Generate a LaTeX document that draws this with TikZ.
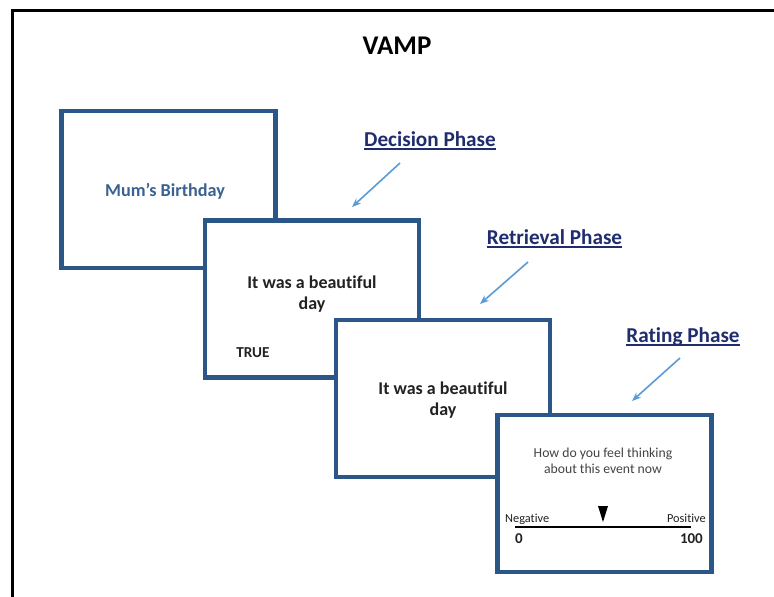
\documentclass[tikz,border=0pt]{standalone}
\usepackage{fontspec}
\setmainfont{Carlito}[Ligatures=NoCommon]
\usetikzlibrary{arrows.meta}
\definecolor{cardblue}{HTML}{2B5788}
\definecolor{phasenavy}{HTML}{1F2D6E}
\definecolor{arrowblue}{HTML}{5B9BD5}
\definecolor{mumblue}{HTML}{3B6190}
\definecolor{softblack}{HTML}{222222}
\begin{document}
\begin{tikzpicture}[x=1pt,y=-1pt,
  card/.style={draw=cardblue, line width=4.2pt, fill=white, minimum width=214pt, minimum height=157pt, inner sep=0pt},
  txt/.style={inner sep=0pt, anchor=base},
  phase/.style={inner sep=0pt, anchor=base, text=phasenavy, font=\fontsize{21.2}{24}\selectfont\bfseries},
  uline/.style={draw=phasenavy, line width=1.5pt},
  parrow/.style={draw=arrowblue, line width=1.6pt, -{Stealth[length=9pt,width=7pt]}},
  cardtext/.style={inner sep=0pt, anchor=base, text=softblack, font=\fontsize{18}{20}\selectfont\bfseries}
]
\useasboundingbox (0,0) rectangle (774,597);
\fill[white] (0,0) rectangle (774,597);
% outer frame
\draw[line width=3pt, black] (12,600) -- (12,10) -- (776,10);

% title
\node[txt, font=\fontsize{27}{30}\selectfont\bfseries] (title) at (397,54) {VAMP};

% cards
\node[card] (b1) at (168.5,189.5) {};
\node[card] (b2) at (312.25,299) {};
\node[card] (b3) at (443.25,398.5) {};
\node[card] (b4) at (604.5,493.5) {};

% card texts
\node[txt, text=mumblue, font=\fontsize{18.2}{20}\selectfont\bfseries] (mum) at (165,196) {Mum’s Birthday};
\node[cardtext] (b2l1) at (312,288) {It was a beautiful};
\node[cardtext] (b2l2) at (312,309) {day};
\node[txt, text=softblack, font=\fontsize{15.2}{17}\selectfont\bfseries] (true) at (253,357.5) {TRUE};
\node[cardtext] (b3l1) at (443,394) {It was a beautiful};
\node[cardtext] (b3l2) at (443,415) {day};

\node[txt, text=softblack!85, font=\fontsize{13.7}{15}\selectfont] (q1) at (603,457) {How do you feel thinking};
\node[txt, text=softblack!85, font=\fontsize{13.7}{15}\selectfont] (q2) at (603,473) {about this event now};
\node[txt, anchor=base west, text=softblack, font=\fontsize{12.3}{14}\selectfont] (neg) at (505,522) {Negative};
\node[txt, anchor=base east, text=softblack, font=\fontsize{12.3}{14}\selectfont] (pos) at (706,522) {Positive};
\coordinate (sl) at (515,527);
\coordinate (sr) at (691,527);
\draw[line width=2.5pt, black] (sl) -- (sr);
\node[txt, anchor=base west, text=softblack, font=\fontsize{15}{16}\selectfont\bfseries] (zero) at (515,543) {0};
\node[txt, anchor=base east, text=softblack, font=\fontsize{15}{16}\selectfont\bfseries] (hund) at (703,543) {100};
\fill[black] (598,506) -- (608,506) -- (603,522) -- cycle;

% phase labels
\node[phase] (dec) at (430,146) {Decision Phase};
\node[phase] (ret) at (554.5,244) {Retrieval Phase};
\node[phase] (rat) at (683,342) {Rating Phase};
\draw[uline] ([yshift=-3pt]dec.base west) -- ([yshift=-3pt]dec.base east);
\draw[uline] ([yshift=-3pt]ret.base west) -- ([yshift=-3pt]ret.base east);
\draw[uline] ([yshift=-3pt]rat.base west) -- ([yshift=-3pt]rat.base east);

% arrows
\coordinate (a1s) at (400,163);
\coordinate (a1e) at (352,207);
\coordinate (a2s) at (528,262);
\coordinate (a2e) at (480,304);
\coordinate (a3s) at (680,358);
\coordinate (a3e) at (632,401);
\draw[parrow] (a1s) -- (a1e);
\draw[parrow] (a2s) -- (a2e);
\draw[parrow] (a3s) -- (a3e);
\end{tikzpicture}
\end{document}
